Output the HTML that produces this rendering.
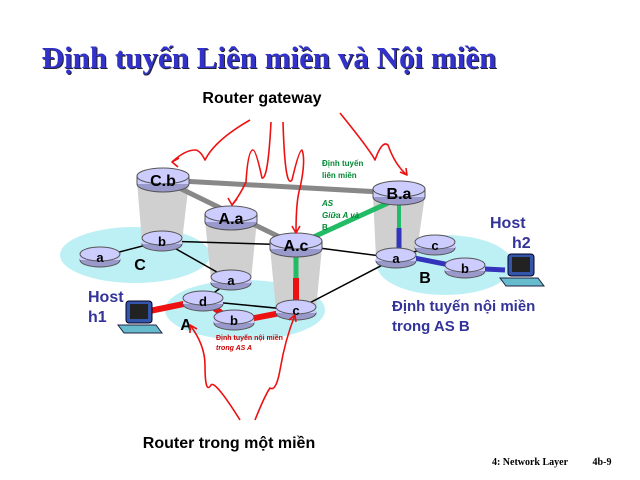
<!DOCTYPE html>
<html><head><meta charset="utf-8"><style>
body{margin:0;background:#fff;width:640px;height:480px;overflow:hidden}
svg{display:block}
.r{font-family:"Liberation Sans",sans-serif;font-weight:bold;font-size:13px;text-anchor:middle;fill:#000}
</style></head><body>
<svg width="640" height="480" viewBox="0 0 640 480" xmlns="http://www.w3.org/2000/svg">
<defs>
<g id="rt"><ellipse cx="0" cy="4" rx="26" ry="8" fill="#9999cc" stroke="#555"/><rect x="-26" y="-4" width="52" height="8" fill="#ccccff"/><line x1="-26" y1="-4" x2="-26" y2="4" stroke="#555"/><line x1="26" y1="-4" x2="26" y2="4" stroke="#555"/><ellipse cx="0" cy="-4" rx="26" ry="8" fill="#ccccff" stroke="#555"/></g>
<g id="rs"><ellipse cx="0" cy="3" rx="20" ry="7" fill="#9999cc" stroke="#555"/><rect x="-20" y="-3" width="40" height="6" fill="#ccccff"/><ellipse cx="0" cy="-3" rx="20" ry="7" fill="#ccccff" stroke="#555"/></g>
<g id="pc"><rect x="-14" y="-14" width="26" height="22" rx="3" fill="#3355aa" stroke="#002"/><rect x="-10" y="-11" width="18" height="15" fill="#222"/><polygon points="-22,10 16,10 22,18 -16,18" fill="#66bbcc" stroke="#224"/></g>
</defs>
<text x="269" y="68" text-anchor="middle" font-family="Liberation Serif,serif" font-weight="bold" font-size="31" fill="#3333cc" style="text-shadow:1px 1px 0 #223">Định tuyến Liên miền và Nội miền</text>
<text x="262" y="103" class="r" style="font-size:16px">Router gateway</text>
<text x="229" y="448" class="r" style="font-size:16px">Router trong một miền</text>
<text x="530" y="465" text-anchor="middle" font-family="Liberation Serif,serif" font-weight="bold" font-size="10">4: Network Layer</text>
<text x="602" y="465" text-anchor="middle" font-family="Liberation Serif,serif" font-weight="bold" font-size="10">4b-9</text>
<ellipse cx="135" cy="255" rx="75" ry="28" fill="#bdf0f5"/>
<ellipse cx="245" cy="310" rx="80" ry="30" fill="#bdf0f5"/>
<ellipse cx="445" cy="265" rx="68" ry="30" fill="#bdf0f5"/>
<polygon points="137,182 189,182 182,241 142,241" fill="#d0d0d0"/>
<polygon points="205,220 257,220 251,280 211,280" fill="#d0d0d0"/>
<polygon points="270,247 322,247 316,310 276,310" fill="#d0d0d0"/>
<polygon points="373,195 425,195 416,258 376,258" fill="#d0d0d0"/>
<line x1="163" y1="180" x2="399" y2="193" stroke="#888" stroke-width="5"/>
<line x1="163" y1="180" x2="296" y2="245" stroke="#888" stroke-width="5"/>
<g stroke="#000" stroke-width="1.5">
<line x1="100" y1="257" x2="162" y2="241"/><line x1="162" y1="241" x2="231" y2="280"/>
<line x1="162" y1="241" x2="296" y2="245"/><line x1="296" y1="245" x2="396" y2="258"/>
<line x1="296" y1="310" x2="396" y2="258"/><line x1="203" y1="301" x2="296" y2="310"/>
<line x1="231" y1="280" x2="203" y2="301"/><line x1="396" y1="258" x2="435" y2="245"/>
</g>
<polyline points="130,315 203,300 234,322 296,310 296,278" fill="none" stroke="#ee1111" stroke-width="6"/>
<polyline points="296,278 296,245 399,198" fill="none" stroke="#22bb66" stroke-width="5"/>
<polyline points="399,198 399,228" fill="none" stroke="#22bb66" stroke-width="4"/>
<polyline points="399,228 399,255 465,268 505,270" fill="none" stroke="#3333bb" stroke-width="5"/>
<use href="#rt" x="163" y="180"/><text x="163" y="186" class="r" style="font-size:16px">C.b</text>
<use href="#rt" x="231" y="218"/><text x="231" y="224" class="r" style="font-size:16px">A.a</text>
<use href="#rt" x="296" y="245"/><text x="296" y="251" class="r" style="font-size:16px">A.c</text>
<use href="#rt" x="399" y="193"/><text x="399" y="199" class="r" style="font-size:16px">B.a</text>
<use href="#rs" x="100" y="257"/><text x="100" y="262" class="r">a</text>
<use href="#rs" x="162" y="241"/><text x="162" y="246" class="r">b</text>
<use href="#rs" x="231" y="280"/><text x="231" y="285" class="r">a</text>
<use href="#rs" x="203" y="301"/><text x="203" y="306" class="r">d</text>
<use href="#rs" x="234" y="320"/><text x="234" y="325" class="r">b</text>
<use href="#rs" x="296" y="310"/><text x="296" y="315" class="r">c</text>
<use href="#rs" x="396" y="258"/><text x="396" y="263" class="r">a</text>
<use href="#rs" x="435" y="245"/><text x="435" y="250" class="r">c</text>
<use href="#rs" x="465" y="268"/><text x="465" y="273" class="r">b</text>
<text x="140" y="270" class="r" style="font-size:16px">C</text>
<text x="186" y="330" class="r" style="font-size:16px">A</text>
<text x="425" y="283" class="r" style="font-size:16px">B</text>
<use href="#pc" x="140" y="315"/><use href="#pc" x="522" y="268"/>
<g font-family="Liberation Sans,sans-serif" font-weight="bold" fill="#333399">
<text x="88" y="302" font-size="16">Host</text><text x="88" y="322" font-size="16">h1</text>
<text x="490" y="228" font-size="16">Host</text><text x="512" y="248" font-size="16">h2</text>
<text x="392" y="311" font-size="15">Định tuyến nội miền</text><text x="392" y="331" font-size="15">trong AS B</text>
</g>
<g font-family="Liberation Sans,sans-serif" font-weight="bold" font-size="8" fill="#008833">
<text x="322" y="166">Định tuyến</text><text x="322" y="178">liên miền</text>
<text x="322" y="206" font-style="italic">AS</text><text x="322" y="218" font-style="italic">Giữa A và</text><text x="322" y="230">B</text>
</g>
<g font-family="Liberation Sans,sans-serif" font-weight="bold" font-size="7" fill="#cc0000">
<text x="216" y="340">Định tuyến nội miền</text><text x="216" y="350" font-style="italic">trong AS A</text>
</g>
<g fill="none" stroke="#ee1111" stroke-width="1.6" stroke-linejoin="round">
<path d="M250,120 Q215,140 205,160 Q200,150 195,150 Q185,150 172,162"/><polyline points="179,158 172,162 178,167"/>
<path d="M271,122 Q268,180 262,178 Q256,150 253,150 Q248,150 246,182 Q240,195 232,205"/><polyline points="228,198 232,205 237,199"/>
<path d="M283,122 Q285,190 292,180 Q299,150 302,150 Q306,160 300,188 Q296,200 296,233"/><polyline points="292,226 296,233 300,226"/>
<path d="M340,113 Q370,150 375,160 Q382,140 388,145 Q395,165 407,175"/><polyline points="400,172 407,175 406,168"/>
<path d="M240,420 Q215,380 211,385 Q205,395 205,365 Q205,345 190,325"/><polyline points="190,333 190,325 197,329"/>
<path d="M255,420 Q265,395 270,388 Q276,392 280,370 Q285,340 295,315"/><polyline points="289,320 295,315 296,322"/>
</g>
</svg>
</body></html>
